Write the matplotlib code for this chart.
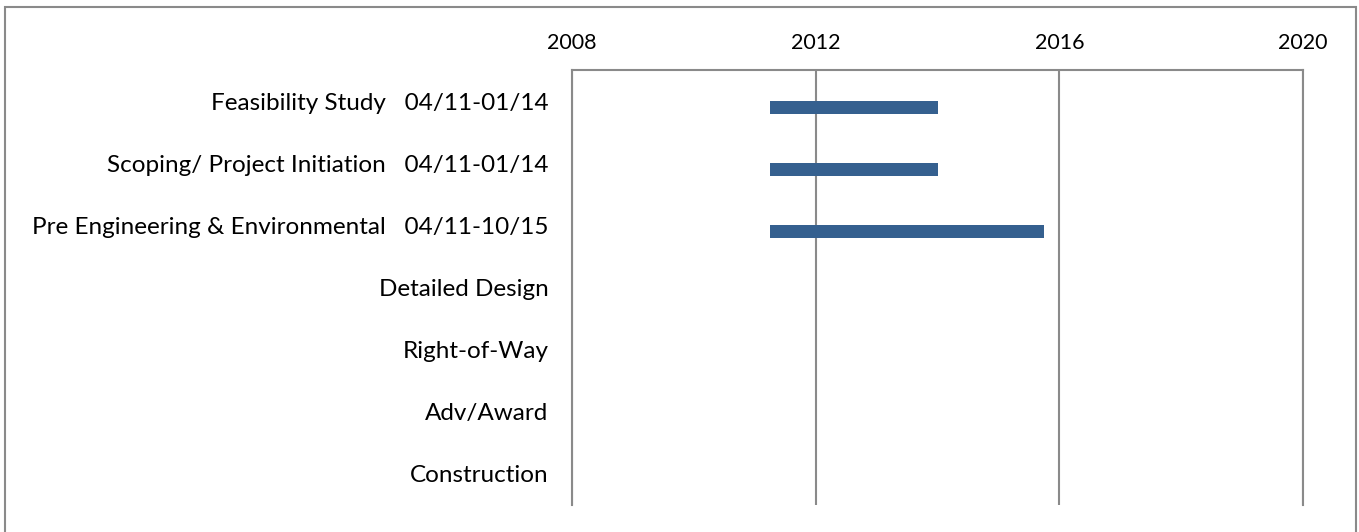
import matplotlib
matplotlib.use("Agg")
import matplotlib.pyplot as plt
from matplotlib.patches import Rectangle

# schedule data (decimal years)
tasks = ["Feasibility Study", "Scoping/ Project Initiation", "Pre Engineering & Environmental",
         "Detailed Design", "Right-of-Way", "Adv/Award", "Construction"]
dates = ["04/11-01/14", "04/11-01/14", "04/11-10/15", "", "", "", ""]
start = [2011.25, 2011.25, 2011.25]
finish = [2014.0, 2014.0, 2015.75]
year_ticks = [2008, 2012, 2016, 2020]

plt.rcParams['font.family'] = ['Lato', 'DejaVu Sans']
grey = "#8a8a8a"

fig = plt.figure(figsize=(13.59, 5.32), dpi=100)
ax = fig.add_axes([572/1359, 1-505/532, (1303-572)/1359, (505-70)/532])

# outer frame round the whole chart
fig.patches.append(Rectangle((5/1359, -0.05), 1351/1359, 1.05-7/532, transform=fig.transFigure,
                             fill=False, edgecolor=grey, linewidth=1.5))

rows = list(range(len(tasks)))
durations = [f - s for s, f in zip(start, finish)]
ax.barh([r + 0.1 for r in rows[:len(start)]], durations, left=start, height=0.2, color="#35608f")

labels = []
for t, d in zip(tasks, dates):
    labels.append(t + "   " + d if d else t)
ax.set_yticks(rows)
ax.set_yticklabels(labels, fontsize=17.5)
ax.set_ylim(len(tasks) - 0.5, -0.5)

ax.set_xlim(2008, 2020)
ax.set_xticks(year_ticks)
ax.xaxis.tick_top()
ax.tick_params(axis="x", length=0, pad=12, labelsize=15.5)
ax.tick_params(axis="y", length=0, pad=17)
ax.grid(axis="x", color=grey, linewidth=1.5)
ax.set_axisbelow(True)

for side in ["left", "top", "right"]:
    ax.spines[side].set_color(grey)
    ax.spines[side].set_linewidth(1.5)
ax.spines["bottom"].set_visible(False)

fig.savefig("out.png", dpi=100)
